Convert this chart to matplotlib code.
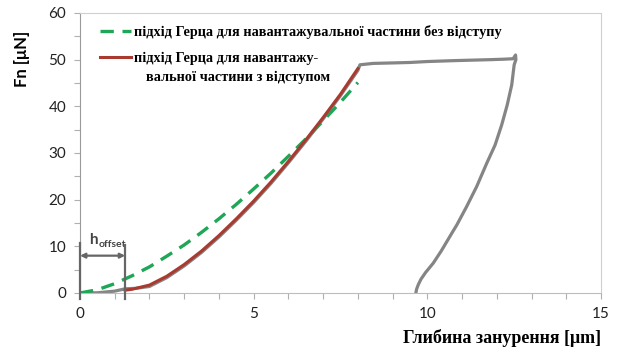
import matplotlib
matplotlib.use("Agg")
import matplotlib.pyplot as plt
from matplotlib.ticker import MultipleLocator

# measured load-depth curve (loading, hold, unloading)
depth_meas = [0.0, 0.5, 1.0, 1.3, 1.6, 2.0, 2.5, 3.0, 3.5, 4.0, 4.5, 5.0, 5.5, 6.0,
              6.5, 7.0, 7.5, 8.0, 8.06, 8.44, 9.0, 9.5, 10.0, 10.4, 10.8, 11.3,
              11.8, 12.2, 12.47, 12.54, 12.55, 12.5, 12.43, 12.3, 12.14, 11.95, 11.71,
              11.42, 11.13, 10.85, 10.72, 10.6, 10.4, 10.17, 9.95, 9.82, 9.74, 9.69, 9.67]
force_meas = [0.0, 0.05, 0.4, 0.9, 1.0, 1.4, 3.3, 5.8, 8.7, 12.0, 15.6, 19.4, 23.5, 27.9,
              32.5, 37.3, 42.3, 47.7, 48.9, 49.2, 49.3, 49.4, 49.6, 49.7, 49.8, 49.9,
              50.0, 50.1, 50.2, 51.0, 50.0, 48.9, 44.6, 40.3, 36.0, 31.7, 27.8,
              22.8, 18.5, 14.6, 13.0, 11.5, 9.0, 6.4, 4.4, 3.0, 1.8, 0.8, 0.0]

# Hertz fit of the loading part without offset
depth_fit = [0.0, 0.5, 1.0, 1.5, 2.0, 2.5, 3.0, 3.5, 4.0, 4.5, 5.0, 5.5, 6.0, 6.5, 7.0, 7.5, 8.0]
force_fit = [0.0, 0.7, 2.0, 3.7, 5.6, 7.9, 10.3, 13.0, 15.9, 19.0, 22.3, 25.7, 29.3, 33.0, 36.9, 40.9, 45.1]

# Hertz fit of the loading part with offset
h_offset = 1.3
depth_fit_off = [1.3, 1.5, 2.0, 2.5, 3.0, 3.5, 4.0, 4.5, 5.0, 5.5, 6.0, 6.5, 7.0, 7.5, 8.0]
force_fit_off = [0.6, 0.8, 1.7, 3.6, 6.1, 9.0, 12.3, 15.9, 19.7, 23.8, 28.2, 32.8, 37.6, 42.6, 48.1]

label_fit = "підхід Герца для навантажувальної частини без відступу"
label_fit_off = "підхід Герца для навантажу-"
label_fit_off2 = "вальної частини з відступом"

serif = ["Liberation Serif", "DejaVu Serif"]
sans = ["Lato", "DejaVu Sans"]

fig = plt.figure(figsize=(6.24, 3.52), dpi=100)
ax = fig.add_axes([80 / 624, 1 - 293 / 352, 521 / 624, 280 / 352])

ax.plot(depth_meas, force_meas, color="#858585", lw=2.3, solid_joinstyle="round", zorder=2)
g, = ax.plot(depth_fit, force_fit, color="#1fa657", lw=2.4, dashes=(4, 2.6), zorder=3)
r, = ax.plot(depth_fit_off, force_fit_off, color="#a83a30", lw=2.2, zorder=4)

ax.set_xlim(0, 15)
ax.set_ylim(0, 60)
ax.xaxis.set_major_locator(MultipleLocator(5))
ax.xaxis.set_minor_locator(MultipleLocator(1))
ax.yaxis.set_major_locator(MultipleLocator(10))
ax.yaxis.set_minor_locator(MultipleLocator(5))
ax.tick_params(which="both", direction="out", color="#b0b0b0", length=4, width=0.8)
ax.tick_params(which="major", labelsize=11, labelcolor="#222222", pad=6)
for lbl in ax.get_xticklabels() + ax.get_yticklabels():
    lbl.set_family(sans)

for side in ["top", "right"]:
    ax.spines[side].set_color("#cfcfcf")
    ax.spines[side].set_linewidth(0.8)
ax.spines["left"].set_color("#9a9a9a")
ax.spines["bottom"].set_color("#bdbdbd")

leg = ax.legend([g, r], [label_fit, label_fit_off], loc="upper left",
                bbox_to_anchor=(14 / 521, 1 - 6 / 280), frameon=False,
                prop={"family": serif, "weight": "bold", "size": 10.3},
                handlelength=2.2, handletextpad=0.2, labelspacing=0.9, borderaxespad=0)
fig.text(146 / 624, 1 - 77 / 352, label_fit_off2, family=serif, weight="bold",
         size=10.3, va="center", ha="left")

# h_offset marker
ax.plot([0, 0], [-1.2, 10.7], color="#666666", lw=1.6, clip_on=False, zorder=5)
ax.plot([h_offset, h_offset], [-1.2, 10.3], color="#666666", lw=1.6, clip_on=False, zorder=5)
ax.annotate("", xy=(0, 8.0), xytext=(h_offset, 8.0),
            arrowprops=dict(arrowstyle="<|-|>", color="#666666", lw=1.6,
                            mutation_scale=7, shrinkA=0, shrinkB=0))
ax.text(0.26, 10.6, "h", family=sans, weight="bold", size=11, color="#444444",
        ha="left", va="baseline")
ax.text(0.53, 9.9, "offset", family=sans, weight="bold", size=7.5, color="#444444",
        ha="left", va="baseline")

fig.text(22 / 624, 1 - 59 / 352, "Fn [μN]", family=sans, weight="bold", size=12,
         rotation=90, ha="center", va="center")
fig.text(601 / 624, 1 - 338 / 352, "Глибина занурення [μm]", family=serif, weight="bold",
         size=13, ha="right", va="center")

fig.savefig("out.png", dpi=100)
